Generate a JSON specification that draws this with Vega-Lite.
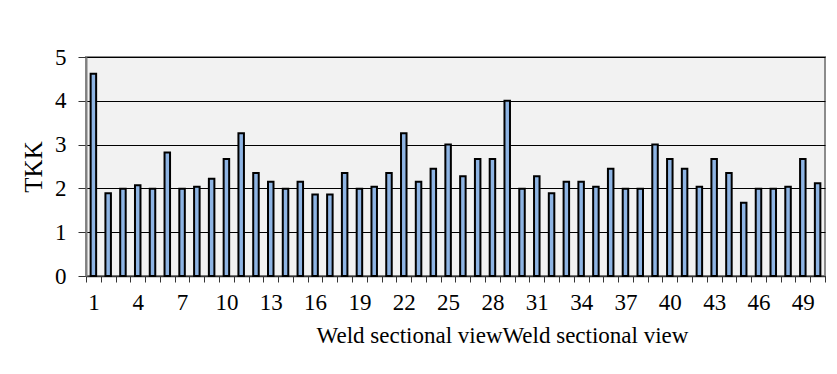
{
  "$schema": "https://vega.github.io/schema/vega-lite/v6.json",
  "autosize": "none",
  "width": 739,
  "height": 219,
  "padding": {"left": 86, "top": 57, "right": 12, "bottom": 98},
  "background": "#ffffff",
  "data": {
    "values": [
      {"section": 1, "tkk": 4.62}, {"section": 2, "tkk": 1.89}, {"section": 3, "tkk": 1.99},
      {"section": 4, "tkk": 2.07}, {"section": 5, "tkk": 1.99}, {"section": 6, "tkk": 2.82},
      {"section": 7, "tkk": 1.99}, {"section": 8, "tkk": 2.04}, {"section": 9, "tkk": 2.22},
      {"section": 10, "tkk": 2.67}, {"section": 11, "tkk": 3.26}, {"section": 12, "tkk": 2.35},
      {"section": 13, "tkk": 2.15}, {"section": 14, "tkk": 1.99}, {"section": 15, "tkk": 2.15},
      {"section": 16, "tkk": 1.86}, {"section": 17, "tkk": 1.86}, {"section": 18, "tkk": 2.35},
      {"section": 19, "tkk": 1.99}, {"section": 20, "tkk": 2.04}, {"section": 21, "tkk": 2.35},
      {"section": 22, "tkk": 3.26}, {"section": 23, "tkk": 2.15}, {"section": 24, "tkk": 2.45},
      {"section": 25, "tkk": 3.0}, {"section": 26, "tkk": 2.28}, {"section": 27, "tkk": 2.67},
      {"section": 28, "tkk": 2.67}, {"section": 29, "tkk": 4.0}, {"section": 30, "tkk": 1.99},
      {"section": 31, "tkk": 2.28}, {"section": 32, "tkk": 1.89}, {"section": 33, "tkk": 2.15},
      {"section": 34, "tkk": 2.15}, {"section": 35, "tkk": 2.04}, {"section": 36, "tkk": 2.45},
      {"section": 37, "tkk": 1.99}, {"section": 38, "tkk": 1.99}, {"section": 39, "tkk": 3.0},
      {"section": 40, "tkk": 2.67}, {"section": 41, "tkk": 2.45}, {"section": 42, "tkk": 2.04},
      {"section": 43, "tkk": 2.67}, {"section": 44, "tkk": 2.35}, {"section": 45, "tkk": 1.67},
      {"section": 46, "tkk": 1.99}, {"section": 47, "tkk": 1.99}, {"section": 48, "tkk": 2.04},
      {"section": 49, "tkk": 2.67}, {"section": 50, "tkk": 2.12}
    ]
  },
  "mark": {"type": "bar", "width": 5.5, "fill": "#8eb4e3", "stroke": "#000000", "strokeWidth": 2},
  "encoding": {
    "x": {
      "field": "section",
      "type": "ordinal",
      "sort": null,
      "scale": {"paddingInner": 0, "paddingOuter": 0},
      "axis": {
        "title": "Weld sectional viewWeld sectional view",
        "titleFont": "Liberation Serif, Times New Roman, serif",
        "titleFontSize": 23,
        "titleFontWeight": "normal",
        "titleColor": "#000000",
        "titleX": 416,
        "titleY": 66,
        "titleBaseline": "alphabetic",
        "labelFont": "Liberation Serif, Times New Roman, serif",
        "labelFontSize": 23,
        "labelColor": "#000000",
        "labelAngle": 0,
        "labelPadding": 9,
        "labelExpr": "(datum.value - 1) % 3 == 0 ? datum.label : ''",
        "labelOverlap": false,
        "tickBand": "extent",
        "tickSize": 6,
        "tickColor": "#333333",
        "tickWidth": 1,
        "domainColor": "#333333",
        "domainWidth": 1.5,
        "grid": false
      }
    },
    "y": {
      "field": "tkk",
      "type": "quantitative",
      "scale": {"domain": [0, 5], "nice": false},
      "axis": {
        "title": "TKK",
        "titleFont": "Liberation Serif, Times New Roman, serif",
        "titleFontSize": 25,
        "titleFontWeight": "normal",
        "titleColor": "#000000",
        "titlePadding": 8,
        "values": [0, 1, 2, 3, 4, 5],
        "labelFont": "Liberation Serif, Times New Roman, serif",
        "labelFontSize": 23,
        "labelColor": "#000000",
        "labelPadding": 12,
        "tickSize": 8,
        "tickColor": "#333333",
        "domainColor": "#808080",
        "domainWidth": 2,
        "grid": true,
        "gridColor": "#000000",
        "gridWidth": 1.2
      }
    }
  },
  "config": {
    "view": {"fill": "#f2f2f2", "stroke": "#8c8c8c", "strokeWidth": 2}
  }
}
